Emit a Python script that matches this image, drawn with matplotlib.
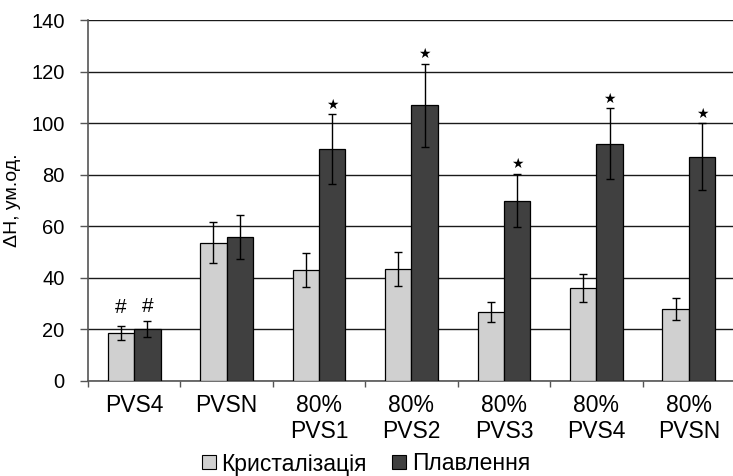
import numpy as np
import matplotlib
matplotlib.use("Agg")
from matplotlib import pyplot as plt
from matplotlib.patches import Patch

plt.rcParams['font.family'] = ['Liberation Sans', 'DejaVu Sans']

grupos = ['PVS4', 'PVSN', '80%\nPVS1', '80%\nPVS2', '80%\nPVS3', '80%\nPVS4', '80%\nPVSN']
cristalizacao = [18.7, 53.7, 43.0, 43.4, 26.8, 36.0, 28.0]
cristalizacao_err = [2.7, 7.9, 6.5, 6.6, 3.8, 5.5, 4.2]
fusao = [20.2, 55.8, 90.0, 107.0, 70.0, 92.0, 87.0]
fusao_err = [3.0, 8.4, 13.5, 16.1, 10.4, 13.7, 13.0]
marcas = ['#', '', '*', '*', '*', '*', '*']
marcas_cristal = ['#', '', '', '', '', '', '']

fig = plt.figure(figsize=(7.33, 4.76), dpi=100)
ax = fig.add_axes([88 / 733, 95 / 476, 647 / 733, 361 / 476])

x = np.arange(len(grupos))
w = 0.285
kw_err = dict(ecolor='black', capsize=2.6, error_kw=dict(elinewidth=1.0, capthick=1.0))
ax.bar(x - w / 2, cristalizacao, w, yerr=cristalizacao_err, color='#d0d0d0',
       edgecolor='black', linewidth=0.9, zorder=3, **kw_err)
ax.bar(x + w / 2, fusao, w, yerr=fusao_err, color='#404040',
       edgecolor='black', linewidth=0.9, zorder=3, **kw_err)

for i in range(len(grupos)):
    if marcas_cristal[i]:
        ax.text(x[i] - w / 2, cristalizacao[i] + cristalizacao_err[i] + 7, marcas_cristal[i],
                ha='center', va='center', fontsize=15)
    if marcas[i] == '#':
        ax.text(x[i] + w / 2, fusao[i] + fusao_err[i] + 5.5, '#',
                ha='center', va='center', fontsize=15)
    elif marcas[i] == '*':
        ax.text(x[i] + w / 2, fusao[i] + fusao_err[i] + 3.6, '★',
                ha='center', va='center', fontsize=10, family='DejaVu Sans')

ax.set_xlim(-0.5, len(grupos) - 0.5)
ax.set_ylim(0, 140)
ax.set_yticks(np.arange(0, 141, 20))
ax.yaxis.grid(True, color='#1a1a1a', linewidth=1.0, zorder=0)
ax.set_axisbelow(True)

ax.set_xticks(x)
ax.set_xticklabels(grupos, fontsize=16.5, linespacing=1.2)
ax.set_xticks(np.arange(-0.5, len(grupos), 1), minor=True)
ax.tick_params(axis='x', which='major', length=0, pad=9)
ax.tick_params(axis='x', which='minor', length=4.5, width=1, color='#555555', direction='out')
ax.tick_params(axis='y', length=5.8, width=1, color='#555555', labelsize=14.5, pad=11)

for s in ['top', 'right']:
    ax.spines[s].set_visible(False)
ax.spines['left'].set_color('#555555')
ax.spines['bottom'].set_color('#555555')
ax.spines['left'].set_linewidth(1.2)
ax.spines['bottom'].set_linewidth(1.2)

ax.set_ylabel('ΔH, ум.од.', fontsize=14, labelpad=7)

handles = [Patch(facecolor='#d0d0d0', edgecolor='black', linewidth=0.8),
           Patch(facecolor='#404040', edgecolor='black', linewidth=0.8)]
fig.legend(handles, ['Кристалізація', 'Плавлення'], loc='center', bbox_to_anchor=(366 / 733, 1 - 464 / 476),
           ncol=2, frameon=False, fontsize=16.5, handlelength=0.6, handleheight=0.55,
           handletextpad=0.25, columnspacing=1.1, borderpad=0)

fig.savefig('out.png', dpi=100)
